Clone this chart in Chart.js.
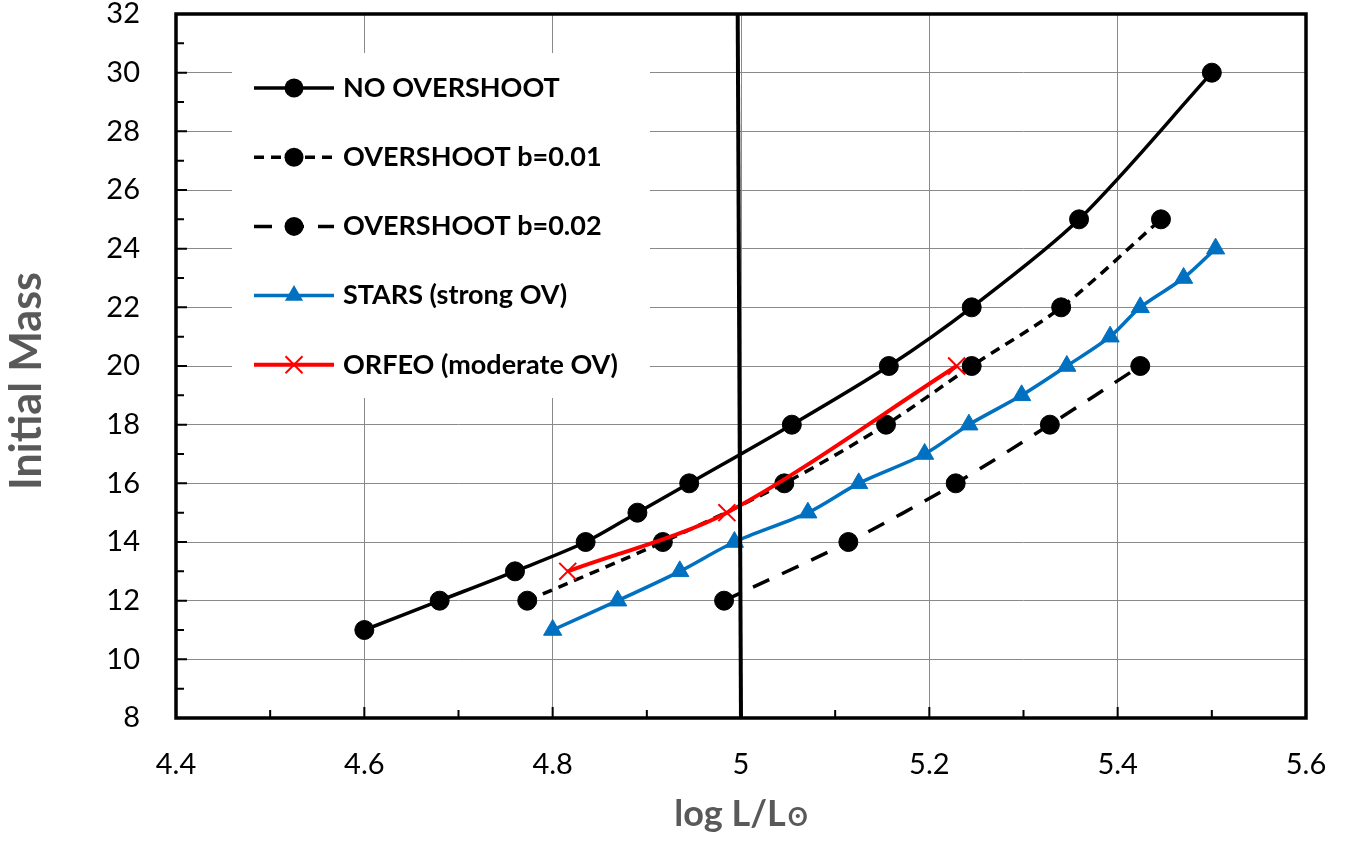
<!DOCTYPE html>
<html>
<head>
<meta charset="utf-8">
<script src="https://cdn.jsdelivr.net/npm/chart.js@4.4.1/dist/chart.umd.min.js"></script>
<style>
  html, body { margin: 0; padding: 0; background: #fff; }
</style>
</head>
<body>
<canvas id="chart" width="1364" height="841"></canvas>
<script>
// axis ticks
var xTickValues = [4.4, 4.6, 4.8, 5.0, 5.2, 5.4, 5.6];
var xTickLabels = ['4.4', '4.6', '4.8', '5', '5.2', '5.4', '5.6'];
var yTickValues = [8, 10, 12, 14, 16, 18, 20, 22, 24, 26, 28, 30, 32];
var yTickLabels = ['8', '10', '12', '14', '16', '18', '20', '22', '24', '26', '28', '30', '32'];
var xTitle = ['log L/L', 'ʘ'];
var yTitle = 'Initial Mass';

// series (log L/Lo, initial mass)
var noOvX = [4.6, 4.68, 4.76, 4.835, 4.89, 4.945, 5.054, 5.157, 5.245, 5.359, 5.5];
var noOvY = [11, 12, 13, 14, 15, 16, 18, 20, 22, 25, 30];
var ov01X = [4.773, 4.917, 5.046, 5.154, 5.245, 5.34, 5.446];
var ov01Y = [12, 14, 16, 18, 20, 22, 25];
var ov02X = [4.982, 5.114, 5.228, 5.328, 5.424];
var ov02Y = [12, 14, 16, 18, 20];
var starsX = [4.8, 4.869, 4.935, 4.993, 5.071, 5.125, 5.195, 5.242, 5.298, 5.346, 5.392, 5.424, 5.47, 5.504];
var starsY = [11, 12, 13, 14, 15, 16, 17, 18, 19, 20, 21, 22, 23, 24];
var orfeoX = [4.816, 4.985, 5.229];
var orfeoY = [13, 15, 20];
var limitX = [4.9965, 5.0];
var limitY = [32, 8];

function pts(xs, ys) {
  return xs.map(function(x, i) { return {x: x, y: ys[i]}; });
}

var FONT = 'Lato, "Open Sans", sans-serif';
Chart.defaults.font.family = FONT;
Chart.defaults.color = '#000';

function drawMarker(ctx, style, x, y, r, color, lw) {
  ctx.save();
  ctx.fillStyle = color;
  ctx.strokeStyle = color;
  ctx.lineWidth = lw || 1;
  ctx.beginPath();
  if (style === 'circle') {
    ctx.arc(x, y, r, 0, Math.PI * 2);
    ctx.fill();
  } else if (style === 'triangle') {
    var a = 0;
    ctx.moveTo(x + Math.sin(a) * r, y - Math.cos(a) * r);
    a += Math.PI * 2 / 3;
    ctx.lineTo(x + Math.sin(a) * r, y - Math.cos(a) * r);
    a += Math.PI * 2 / 3;
    ctx.lineTo(x + Math.sin(a) * r, y - Math.cos(a) * r);
    ctx.closePath();
    ctx.fill();
  } else if (style === 'crossRot') {
    var d = r * Math.SQRT1_2;
    ctx.moveTo(x - d, y - d); ctx.lineTo(x + d, y + d);
    ctx.moveTo(x - d, y + d); ctx.lineTo(x + d, y - d);
    ctx.stroke();
  }
  ctx.restore();
}

// frame, inward minor/major ticks, axis titles and the legend box
var decorPlugin = {
  id: 'decor',
  afterDraw: function(chart) {
    var ctx = chart.ctx, a = chart.chartArea;
    var xs = chart.scales.x, ys = chart.scales.y;
    ctx.save();
    ctx.strokeStyle = '#000';
    ctx.lineWidth = 2;
    ctx.beginPath();
    xTickValues.forEach(function(v, i) {
      var px = xs.getPixelForValue(v);
      ctx.moveTo(px, a.bottom); ctx.lineTo(px, a.bottom - 11);
      if (i < xTickValues.length - 1) {
        var m = xs.getPixelForValue((v + xTickValues[i + 1]) / 2);
        ctx.moveTo(m, a.bottom); ctx.lineTo(m, a.bottom - 8);
      }
    });
    yTickValues.forEach(function(v, i) {
      var py = ys.getPixelForValue(v);
      ctx.moveTo(a.left, py); ctx.lineTo(a.left + 11, py);
      if (i < yTickValues.length - 1) {
        var m = ys.getPixelForValue((v + yTickValues[i + 1]) / 2);
        ctx.moveTo(a.left, m); ctx.lineTo(a.left + 8, m);
      }
    });
    ctx.stroke();
    ctx.lineWidth = 3.5;
    ctx.strokeRect(a.left, a.top, a.right - a.left, a.bottom - a.top);

    // axis titles
    ctx.fillStyle = '#595959';
    ctx.textBaseline = 'alphabetic';
    ctx.textAlign = 'left';
    ctx.font = 'bold 36px ' + FONT;
    var w1 = ctx.measureText(xTitle[0]).width;
    ctx.font = 'bold 27px ' + FONT;
    var w2 = ctx.measureText(xTitle[1]).width;
    var tx = (a.left + a.right) / 2 - (w1 + w2 + 2) / 2;
    ctx.font = 'bold 36px ' + FONT;
    ctx.fillText(xTitle[0], tx, 826);
    ctx.font = 'bold 27px ' + FONT;
    ctx.fillText(xTitle[1], tx + w1 + 2, 826);

    ctx.save();
    ctx.translate(27, 381);
    ctx.rotate(-Math.PI / 2);
    ctx.font = 'bold 43px ' + FONT;
    ctx.textAlign = 'center';
    ctx.textBaseline = 'middle';
    ctx.fillText(yTitle, 0, 0);
    ctx.restore();

    // legend
    var bx = 232, by = 53, bw = 418, bh = 345;
    ctx.fillStyle = '#fff';
    ctx.fillRect(bx, by, bw, bh);
    var row = 0;
    chart.data.datasets.forEach(function(ds) {
      if (!ds.label) return;
      var cy = 88 + row * 69.2;
      ctx.save();
      ctx.strokeStyle = ds.borderColor;
      ctx.lineWidth = ds.borderWidth;
      ctx.setLineDash(ds.borderDash || []);
      ctx.beginPath();
      ctx.moveTo(254, cy); ctx.lineTo(334, cy);
      ctx.stroke();
      ctx.restore();
      drawMarker(ctx, ds.pointStyle, 294, cy, ds.pointRadius, ds.pointBackgroundColor, ds.pointBorderWidth);
      ctx.fillStyle = '#000';
      ctx.font = 'bold 27px ' + FONT;
      ctx.textBaseline = 'middle';
      ctx.textAlign = 'left';
      ctx.fillText(ds.label, 343, cy);
      row++;
    });
    ctx.restore();
  }
};

new Chart(document.getElementById('chart'), {
  type: 'scatter',
  data: {
    datasets: [
      {
        label: 'NO OVERSHOOT', data: pts(noOvX, noOvY), showLine: true, tension: 0.3,
        borderColor: '#000', borderWidth: 3.5, pointStyle: 'circle', pointRadius: 9.5,
        pointBackgroundColor: '#000', pointBorderColor: '#000', pointBorderWidth: 1, order: 3
      },
      {
        label: 'OVERSHOOT b=0.01', data: pts(ov01X, ov01Y), showLine: true, tension: 0.3,
        borderColor: '#000', borderWidth: 3.5, borderDash: [10, 7], pointStyle: 'circle', pointRadius: 9.5,
        pointBackgroundColor: '#000', pointBorderColor: '#000', pointBorderWidth: 1, order: 4
      },
      {
        label: 'OVERSHOOT b=0.02', data: pts(ov02X, ov02Y), showLine: true, tension: 0.3,
        borderColor: '#000', borderWidth: 3.5, borderDash: [18, 14], pointStyle: 'circle', pointRadius: 9.5,
        pointBackgroundColor: '#000', pointBorderColor: '#000', pointBorderWidth: 1, order: 5
      },
      {
        label: 'STARS (strong OV)', data: pts(starsX, starsY), showLine: true, tension: 0.3,
        borderColor: '#0070C0', borderWidth: 3.5, pointStyle: 'triangle', pointRadius: 10.5,
        pointBackgroundColor: '#0070C0', pointBorderColor: '#0070C0', pointBorderWidth: 1, order: 2
      },
      {
        label: 'ORFEO (moderate OV)', data: pts(orfeoX, orfeoY), showLine: true, tension: 0.3,
        borderColor: '#FF0000', borderWidth: 4, pointStyle: 'crossRot', pointRadius: 12,
        pointBackgroundColor: '#FF0000', pointBorderColor: '#FF0000', pointBorderWidth: 2, order: 1
      },
      {
        data: pts(limitX, limitY), showLine: true, tension: 0,
        borderColor: '#000', borderWidth: 4, pointRadius: 0, order: 0
      }
    ]
  },
  options: {
    responsive: false,
    animation: false,
    devicePixelRatio: 1,
    layout: { padding: { top: 13, right: 58, left: 0, bottom: 0 } },
    plugins: { legend: { display: false }, tooltip: { enabled: false } },
    scales: {
      x: {
        type: 'linear', min: 4.4, max: 5.6,
        afterBuildTicks: function(s) { s.ticks = xTickValues.map(function(v) { return {value: v}; }); },
        afterFit: function(s) { s.height = 123; s.paddingLeft = 0; s.paddingRight = 0; },
        ticks: {
          callback: function(v, i) { return xTickLabels[i]; },
          font: { size: 29 }, color: '#000', padding: 29, maxRotation: 0, autoSkip: false
        },
        grid: { color: '#8a8a8a', lineWidth: 1, drawTicks: false },
        border: { display: false }
      },
      y: {
        type: 'linear', min: 8, max: 32,
        afterBuildTicks: function(s) { s.ticks = yTickValues.map(function(v) { return {value: v}; }); },
        afterFit: function(s) { s.width = 176; s.paddingTop = 0; s.paddingBottom = 0; },
        ticks: {
          callback: function(v, i) { return yTickLabels[i]; },
          font: { size: 29 }, color: '#000', padding: 36, autoSkip: false
        },
        grid: { color: '#8a8a8a', lineWidth: 1, drawTicks: false },
        border: { display: false }
      }
    }
  },
  plugins: [decorPlugin]
});
</script>
</body>
</html>
